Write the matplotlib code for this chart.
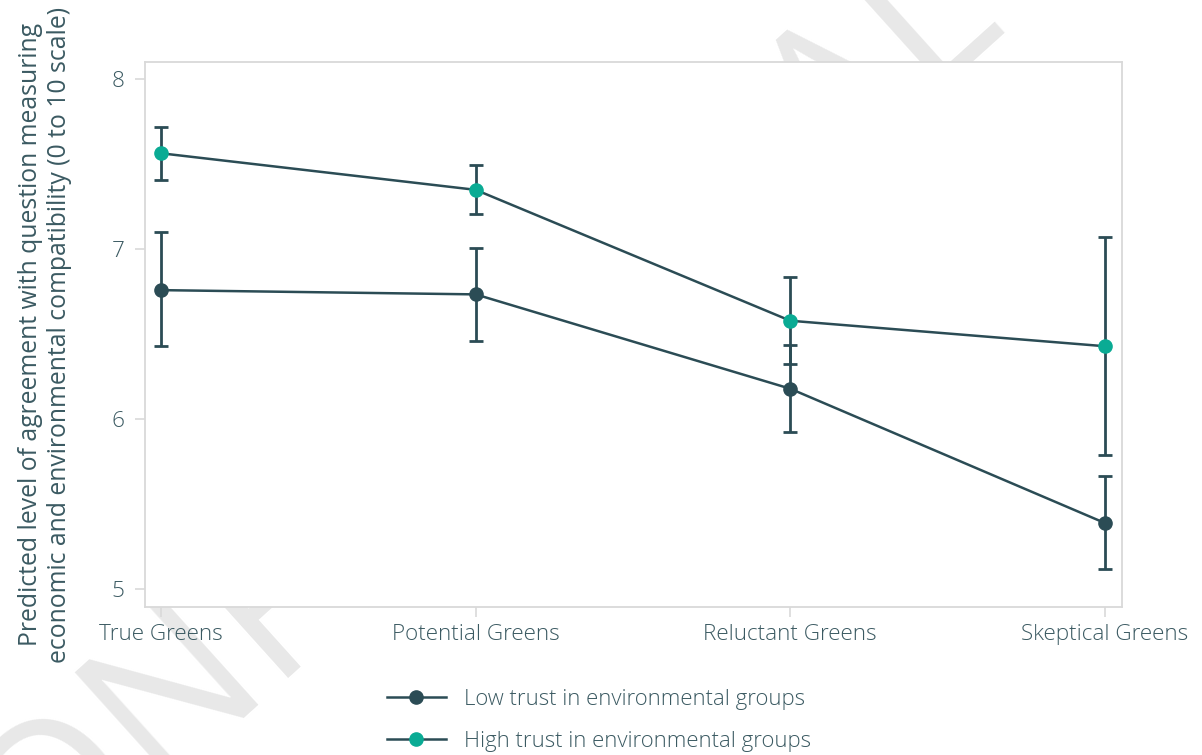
import numpy as np
import matplotlib
matplotlib.use("Agg")
import matplotlib.pyplot as plt

# segments along the x axis
segments = ["True Greens", "Potential Greens", "Reluctant Greens", "Skeptical Greens"]

# predicted values with lower / upper confidence bounds
low_mean = [6.76, 6.735, 6.18, 5.39]
low_lo = [6.43, 6.46, 5.925, 5.12]
low_hi = [7.10, 7.01, 6.435, 5.665]

high_mean = [7.565, 7.35, 6.58, 6.43]
high_lo = [7.41, 7.205, 6.325, 5.79]
high_hi = [7.72, 7.495, 6.835, 7.07]

series_labels = ["Low trust in environmental groups", "High trust in environmental groups"]
y_ticks = [5, 6, 7, 8]

DARK = "#2b4c55"
TEAL = "#0aab94"
TEXT = "#3b5a62"
FRAME = "#d9d9d9"

plt.rcParams["font.family"] = ["Open Sans", "DejaVu Sans"]
plt.rcParams["font.weight"] = "light"

fig = plt.figure(figsize=(12.02, 7.55), dpi=100)
fig.patch.set_facecolor("white")

# faint watermark behind the plot area
fig.text(0.3644, 0.391, "CONFIDENTIAL", fontsize=148, color="#e8e8e8",
         fontweight="normal", rotation=42, ha="center", va="center",
         zorder=-1, rotation_mode="anchor")

ax = fig.add_axes([0.1206, 0.196, 0.8128, 0.7219])
ax.set_facecolor("white")

x = np.arange(len(segments))

for mean, lo, hi, color, label in [
    (low_mean, low_lo, low_hi, DARK, series_labels[0]),
    (high_mean, high_lo, high_hi, TEAL, series_labels[1]),
]:
    mean = np.array(mean)
    err = [mean - np.array(lo), np.array(hi) - mean]
    ax.errorbar(x, mean, yerr=err, fmt="none", ecolor=DARK, elinewidth=2.0,
                capsize=5, capthick=2.0, zorder=2)
    ax.plot(x, mean, color=DARK, lw=1.8, marker="o", markersize=9.5,
            markerfacecolor=color, markeredgecolor=color, label=label, zorder=3)

ax.set_xlim(-0.051, 3.054)
ax.set_ylim(4.896, 8.102)
ax.set_xticks(x)
ax.set_xticklabels(segments)
ax.set_yticks(y_ticks)

for s in ax.spines.values():
    s.set_color(FRAME)
    s.set_linewidth(1.3)

ax.tick_params(axis="both", colors=FRAME, labelcolor=TEXT, labelsize=16.2,
               length=7, width=1.2)
ax.tick_params(axis="x", pad=5)
ax.tick_params(axis="y", pad=8)

ax.set_ylabel("Predicted level of agreement with question measuring\n"
              "economic and environmental compatibility (0 to 10 scale)",
              fontsize=17.8, color=TEXT, labelpad=28, linespacing=1.22)

leg = fig.legend(loc="center left", bbox_to_anchor=(0.322, 0.046),
                 frameon=False, fontsize=15.9, handlelength=2.65,
                 handletextpad=0.82, labelspacing=0.95, borderpad=0,
                 borderaxespad=0)
for t in leg.get_texts():
    t.set_color(TEXT)

fig.savefig("out.png", dpi=100, facecolor="white")
